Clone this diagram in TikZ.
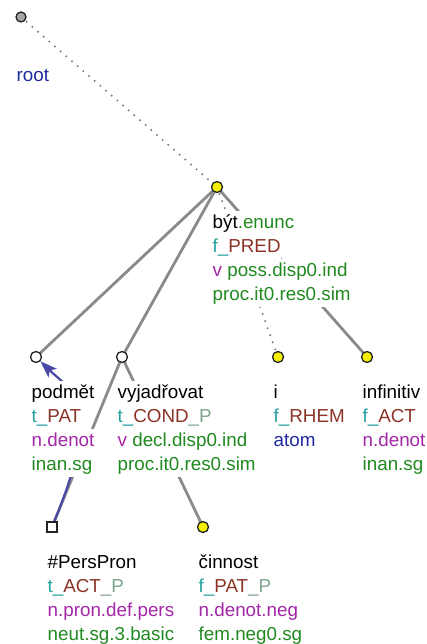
\documentclass[tikz,border=0pt]{standalone}
\usepackage{fontspec}
\setmainfont{Liberation Sans}
\usepackage{xcolor}
\usetikzlibrary{arrows.meta,calc}
\definecolor{gram}{HTML}{208A20}
\definecolor{tfa}{HTML}{22A0A0}
\definecolor{funct}{HTML}{8B3326}
\definecolor{parag}{HTML}{7FA48C}
\definecolor{sempos}{HTML}{A326A8}
\definecolor{ntype}{HTML}{1F2A9E}
\definecolor{edgegray}{HTML}{8A8A8A}
\definecolor{dotgray}{HTML}{7A7A7A}
\definecolor{corefblue}{HTML}{4848A6}
\definecolor{rootgray}{HTML}{A8A8A8}
\definecolor{nodeyel}{HTML}{F4F000}
\definecolor{nodeline}{HTML}{222222}
\pgfdeclarelayer{edges}
\pgfsetlayers{edges,main}
\tikzset{
  tnode/.style={circle, draw=nodeline, line width=1.3pt, minimum size=11pt, inner sep=0pt},
  yelnode/.style={tnode, fill=nodeyel},
  whnode/.style={tnode, fill=white},
  rootnode/.style={tnode, fill=rootgray, minimum size=10pt},
  sqnode/.style={rectangle, draw=nodeline, line width=1.2pt, fill=white,
                 minimum size=10pt, inner sep=0pt},
  tedge/.style={draw=edgegray, line width=2.8pt},
  dotedge/.style={draw=dotgray, line width=2.2pt, line cap=round,
                  dash pattern=on 0pt off 7.5pt},
  corefarrow/.style={draw=corefblue, line width=2.2pt,
                     -{Stealth[length=17pt,width=12pt,inset=4pt]}},
  tline/.style={anchor=base west, fill=white, inner xsep=0.5pt, inner ysep=0pt,
                text height=17pt, text depth=7pt,
                font=\fontsize{18.8}{24}\selectfont}
}
\newcommand\cGram[1]{\textcolor{gram}{#1}}
\newcommand\cTfa[1]{\textcolor{tfa}{#1}}
\newcommand\cFun[1]{\textcolor{funct}{#1}}
\newcommand\cPar[1]{\textcolor{parag}{#1}}
\newcommand\cPos[1]{\textcolor{sempos}{#1}}
\newcommand\cType[1]{\textcolor{ntype}{#1}}
% label lines under a node, one white box per line
\newcommand\tlabel[2]{%
  \foreach \txt [count=\idx from 0] in {#2} {
    \node[tline] (#1-l\idx) at ($(#1)+(-5,41+\idx*24)$) {\txt};
  }}

\begin{document}
\begin{tikzpicture}[x=1pt,y=-1pt]
    \useasboundingbox (0,0) rectangle (426,644);

    % tree nodes
    \node[rootnode] (root) at (21,17) {};
    \node[yelnode] (byt) at (217,187) {};
    \node[whnode] (podmet) at (36,357) {};
    \node[whnode] (vyjadrovat) at (122,357) {};
    \node[yelnode] (i) at (278,357) {};
    \node[yelnode] (infinitiv) at (367,357) {};
    \node[sqnode] (perspron) at (52,527) {};
    \node[yelnode] (cinnost) at (203,527) {};

    % labels
    \node[tline] (root-l1) at ($(root)+(-5,65)$) {\cType{root}};
    \tlabel{byt}{{být\cGram{.enunc}}, {\cTfa{f\_}\cFun{PRED}},
                 {\cPos{v} \cGram{poss.disp0.ind}}, {\cGram{proc.it0.res0.sim}}}
    \tlabel{podmet}{podmět, {\cTfa{t\_}\cFun{PAT}}, {\cPos{n.denot}}, {\cGram{inan.sg}}}
    \tlabel{vyjadrovat}{vyjadřovat, {\cTfa{t\_}\cFun{COND}\cPar{\_P}},
                 {\cPos{v} \cGram{decl.disp0.ind}}, {\cGram{proc.it0.res0.sim}}}
    \tlabel{i}{i, {\cTfa{f\_}\cFun{RHEM}}, {\cType{atom}}}
    \tlabel{infinitiv}{infinitiv, {\cTfa{f\_}\cFun{ACT}}, {\cPos{n.denot}}, {\cGram{inan.sg}}}
    \tlabel{perspron}{\#PersPron, {\cTfa{t\_}\cFun{ACT}\cPar{\_P}},
                 {\cPos{n.pron.def.pers}}, {\cGram{neut.sg.3.basic}}}
    \tlabel{cinnost}{činnost, {\cTfa{f\_}\cFun{PAT}\cPar{\_P}},
                 {\cPos{n.denot.neg}}, {\cGram{fem.neg0.sg}}}

    % edges behind labels and nodes
    \begin{pgfonlayer}{edges}
      \draw[dotedge] (root.center) -- (byt.center);
      \draw[dotedge] (byt.center) -- (i.center);
      \foreach \a/\b in {byt/podmet, byt/vyjadrovat, byt/infinitiv,
                         vyjadrovat/perspron, vyjadrovat/cinnost}
        \draw[tedge] (\a.center) -- (\b.center);
      \draw[corefarrow] (perspron) .. controls (104,400) and (72,392) .. (podmet);
    \end{pgfonlayer}
  \end{tikzpicture}
\end{document}
